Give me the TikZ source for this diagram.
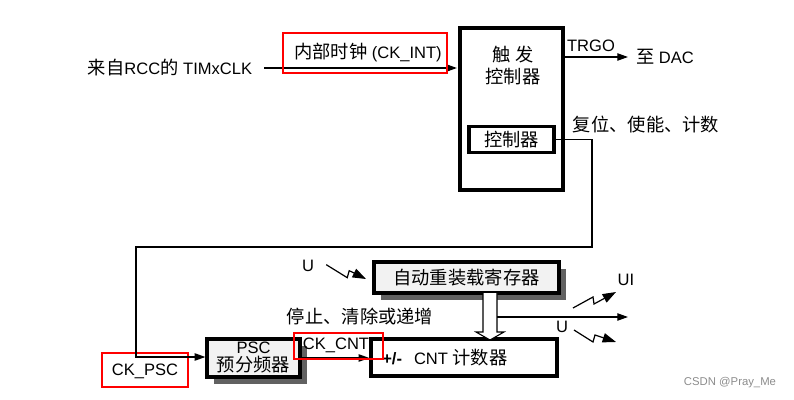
\documentclass[tikz,border=0pt]{standalone}
\usepackage{fontspec}
\setmainfont{Liberation Sans}
\newfontfamily\cjk{Noto Sans CJK SC}
\usetikzlibrary{arrows.meta,shadows}
\newcommand{\zh}[1]{{\cjk\fontsize{13.7}{16.5}\selectfont #1}}
\begin{document}
\begin{tikzpicture}[x=0.75pt,y=-0.75pt,
  font=\fontsize{12.4}{14}\selectfont,
  txt/.style={inner sep=0pt, anchor=center},
  line/.style={line width=0.9pt},
  arr/.style={line, -{Triangle[length=8pt,width=5.5pt]}},
  zap/.style={line, -{Triangle[length=10pt,width=7pt]}},
  tbox/.style={draw, line width=2.6pt, inner sep=0pt, fill=white},
  gbox/.style={draw, line width=2.4pt, inner sep=0pt, fill=black!5,
     drop shadow={opacity=1, fill=black!62, shadow xshift=5pt, shadow yshift=-5pt}},
  redbox/.style={draw=red, line width=1.4pt, inner sep=0pt},
  hollow/.style={draw, line width=0.8pt, fill=white},
]
\useasboundingbox (0,0) rectangle (794,400);

% trigger controller
\node[tbox, minimum width=77.25pt, minimum height=121.5pt] (trig) at (511.5,109) {};
\node[txt, align=center, font=\cjk\fontsize{13.7}{16.5}\selectfont] (trigtxt) at (513,66) {触\hspace{4pt}发\\控制器};
\node[tbox, minimum width=64pt, minimum height=19.5pt] (ctrl) at (511.5,139.5) {\zh{控制器}};

% input
\node[txt] (rcc) at (170,68) {\zh{来自}RCC\zh{的} TIMxCLK};
\draw[arr] ([xshift=9pt]rcc.east) -- ([xshift=-1pt]rcc.east -| trig.west);
\node[txt] (ckint) at (368,53) {\zh{内部时钟} (CK\_INT)};
\node[redbox, minimum width=123pt, minimum height=30pt] (redint) at (365,53) {};

% TRGO
\coordinate (trgoend) at (628,57);
\draw[arr] (trig.east |- trgoend) -- (trgoend);
\node[txt] (trgo) at (591,46) {TRGO};
\node[txt] (dac) at (665,57) {\zh{至} DAC};
\node[txt] (rst) at (646,125) {\zh{复位、使能、计数}};

% PSC
\node[gbox, minimum width=69.75pt, minimum height=28.5pt] (psc) at (253.5,358) {};
\node[txt] (psctxt1) at (253.5,348) {PSC};
\node[txt] (psctxt2) at (253.5,365) {\zh{预分频器}};
\node[txt] (ckpsc) at (145,371) {CK\_PSC};
\node[redbox, minimum width=64.5pt, minimum height=25.5pt] (redpsc) at (145,370) {};

% control line to PSC
\coordinate (c1) at (592,247);
\coordinate (c2) at (136,357);
\draw[arr] (ctrl.east) -| (c1) -| (c2) -- (c2 -| psc.west);

% auto reload register
\node[gbox, minimum width=138.75pt, minimum height=23.25pt] (arrreg) at (466.5,277.5) {\zh{自动重装载寄存器}};

% CNT counter
\node[tbox, line width=2.4pt, minimum width=139.5pt, minimum height=27.75pt] (cnt) at (464,357.5) {};
\node[txt, anchor=west] (cnttxt) at (382,358) {{\bfseries +/-}\hspace{9pt}CNT \zh{计数器}};
\draw[arr] (psc.east) -- (psc.east -| cnt.west);
\node[txt] (ckcnt) at (336,345) {CK\_CNT};
\node[redbox, minimum width=66.75pt, minimum height=19.5pt] (redcnt) at (338.5,346) {};

\node[txt] (stop) at (360,317) {\zh{停止、清除或递增}};

% hollow arrow from register to counter
\coordinate (hl) at (483,293);
\coordinate (hr) at (497,293);
\draw[hollow] (hl) -- ++(0,39) -- ++(-7,0) -- ++(14,8) -- ++(14,-8) -- ++(-7,0) -- (hr);
\coordinate (outend) at (628,317);
\draw[arr] (hr |- outend) -- (outend);

% lightning arrows
\node[txt] (u1) at (308,266) {U};
\draw[zap] ([xshift=9pt,yshift=1pt]u1.east) -- ++(21,13) -- ++(2,-7) -- (366,279);
\node[txt] (ui) at (626,280) {UI};
\coordinate (l2s) at (573,308);
\draw[zap] (l2s) -- ++(20,-11) -- ++(1,7) -- (616,292);
\node[txt] (u2) at (562,327) {U};
\coordinate (l3s) at (574,330);
\draw[zap] (l3s) -- ++(19,12) -- ++(2,-7) -- (616,342);

% watermark
\node[txt, text=black!45, font=\fontsize{8.5}{10}\selectfont] (wm) at (730,383) {CSDN @Pray\_Me};
\end{tikzpicture}
\end{document}
